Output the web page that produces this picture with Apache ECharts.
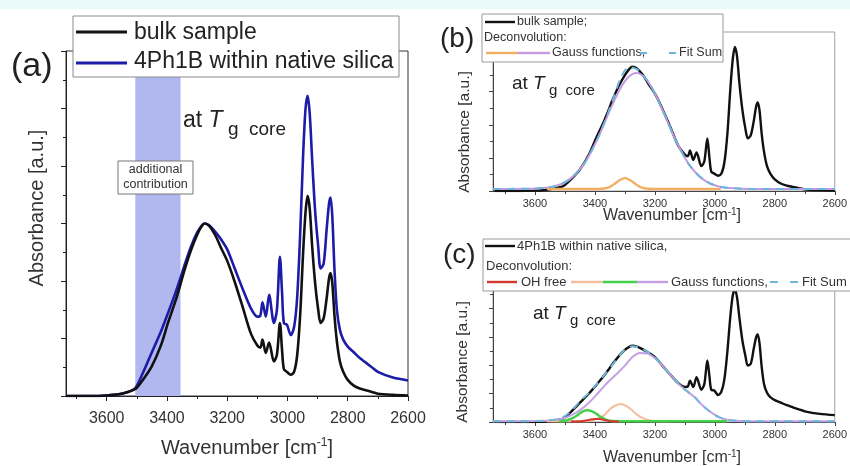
<!DOCTYPE html>
<html>
<head>
<meta charset="utf-8">
<script src="https://cdn.jsdelivr.net/npm/echarts@6/dist/echarts.min.js"></script>
<style>
html,body{margin:0;padding:0;background:#fff;}
#chart{width:850px;height:466px;}
</style>
</head>
<body>
<div id="chart"></div>
<script>
// IR spectra in the O-H / C-H stretching region, wavenumber [cm^-1] vs absorbance [a.u.]
const specWn = [3735,3650,3600,3560,3530,3505,3480,3450,3420,3396,3370,3356,3340,3320,3300,3285,3275,3260,3240,3220,
  3200,3176,3150,3121,3100,3090,3083,3072,3061,3045,3035,3025,3018,3012,3002,2989,2978,2968,2958,2948,
  2940,2933,2926,2918,2908,2898,2890,2880,2870,2862,2857,2851,2844,2836,2826,2815,2800,2780,2760,2740,
  2720,2700,2650,2600];
// bulk sample
const bulkAbs = [0.0,0.0,0.01,0.03,0.07,0.12,0.28,0.52,0.88,1.28,1.68,1.93,2.22,2.54,2.8,2.95,3.0,2.96,2.8,2.57,
  2.35,2.0,1.57,1.08,0.88,0.84,0.98,0.75,0.93,0.6,0.72,1.27,0.8,0.47,0.42,0.37,0.42,0.7,1.4,2.5,
  3.2,3.48,3.25,2.6,1.95,1.5,1.27,1.35,1.7,2.05,2.14,1.95,1.4,0.95,0.6,0.42,0.28,0.18,0.13,0.1,
  0.07,0.04,0.02,0.01];
// 4Ph1B within native silica
const silicaAbs = [0.0,0.0,0.01,0.03,0.07,0.14,0.4,0.76,1.12,1.45,1.82,2.04,2.3,2.6,2.84,2.96,3.0,2.97,2.86,2.72,
  2.55,2.23,1.88,1.52,1.38,1.4,1.63,1.38,1.76,1.27,1.5,2.42,1.8,1.27,1.24,1.06,1.2,1.7,2.8,4.2,
  5.0,5.22,4.9,4.1,3.2,2.6,2.22,2.3,2.9,3.35,3.45,3.1,2.2,1.5,1.15,0.98,0.86,0.76,0.66,0.58,
  0.5,0.42,0.32,0.27];

// deconvolution of the bulk sample
const bGaussWn = [3740,3612,3562,3537,3512,3487,3462,3437,3412,3387,3362,3337,3312,3287,3262,3237,3212,3187,3162,3137,
  3112,3087,3062,3037,3012,2987,2962,2912,2850,2600];
const bGaussAbs = [0.05,0.056,0.08,0.11,0.17,0.27,0.43,0.65,0.96,1.33,1.75,2.16,2.52,2.76,2.85,2.76,2.52,2.16,1.75,1.33,
  0.96,0.65,0.43,0.27,0.17,0.11,0.08,0.056,0.05,0.05];
const bFitAbs = [0.05,0.056,0.08,0.11,0.17,0.27,0.43,0.65,0.96,1.33,1.77,2.27,2.76,2.99,2.95,2.78,2.52,2.16,1.75,1.33,
  0.96,0.65,0.43,0.27,0.17,0.11,0.08,0.056,0.05,0.05];
const bOrangeWn = [3560,3390,3370,3350,3335,3318,3300,3282,3265,3250,3230,3210,2980];
const bOrangeAbs = [0.05,0.05,0.06,0.1,0.17,0.26,0.31,0.26,0.17,0.1,0.06,0.05,0.05];

// deconvolution of 4Ph1B within native silica
const cGaussWn = [3740,3650,3600,3560,3530,3505,3480,3451,3420,3396,3370,3345,3320,3300,3275,3250,3225,3200,3176,3150,
  3121,3100,3068,3045,3022,3000,2985,2960,2930,2880,2600];
const cGaussAbs = [0.03,0.03,0.04,0.05,0.08,0.14,0.26,0.46,0.76,1.06,1.4,1.7,1.98,2.22,2.56,2.72,2.7,2.52,2.23,1.88,
  1.5,1.28,0.98,0.7,0.46,0.28,0.18,0.09,0.05,0.03,0.03];
const cFitAbs = [0.03,0.03,0.04,0.06,0.1,0.2,0.42,0.8,1.15,1.46,1.84,2.2,2.58,2.84,2.98,2.92,2.76,2.54,2.23,1.88,
  1.5,1.28,0.98,0.7,0.46,0.28,0.18,0.09,0.05,0.03,0.03];
const cOrangeWn = [3560,3420,3390,3370,3350,3335,3315,3295,3280,3260,3240,3220,3200,3150];
const cOrangeAbs = [0.03,0.03,0.14,0.26,0.5,0.63,0.71,0.63,0.5,0.29,0.15,0.07,0.04,0.03];
const cGreenWn = [3520,3495,3475,3455,3440,3425,3410,3395,3380,3365,3350,3330,2960];
const cGreenAbs = [0.03,0.06,0.15,0.3,0.42,0.46,0.42,0.32,0.2,0.1,0.05,0.03,0.03];
const cRedWn = [3480,3440,3420,3400,3385,3365,3345,3320];
const cRedAbs = [0.02,0.04,0.08,0.12,0.12,0.07,0.03,0.02];

// shaded band of the additional contribution
const bandWn = [3505, 3355];

// tick positions
const xMajor = [2600,2800,3000,3200,3400,3600];
const xMinor = [2700,2900,3100,3300,3500,3700];
const yMajorA = [0,1,2,3,4,5,6];
const yMinorA = [0.5,1.5,2.5,3.5,4.5,5.5];
const yMajorB = [0,0.8,1.6,2.4,3.2];
const yMinorB = [0.4,1.2,2.0,2.8,3.6];
const yMajorC = [0,1.115,2.23,3.345,4.46,5.575];
const yMinorC = [0.5575,1.6725,2.7875,3.9025,5.0175];

const FONT = "'Liberation Sans', Arial, sans-serif";
const pairs = (xs, ys) => xs.map((x, i) => [x, ys[i]]);

function xMain(gi, max, fs, margin, col, tickLen) {
  return {
    gridIndex: gi, type: 'value', min: 2600, max: max, inverse: true, position: 'bottom',
    axisLine: { show: true, onZero: false, lineStyle: { color: col, width: 1 } },
    axisTick: { show: true, inside: false, length: tickLen, customValues: xMajor, lineStyle: { color: col } },
    axisLabel: { show: true, customValues: xMajor, fontSize: fs, fontFamily: FONT, color: '#333', margin: margin,
      formatter: v => String(Math.round(v)) },
    splitLine: { show: false }
  };
}
function xMinorAxis(gi, max, col) {
  return {
    gridIndex: gi, type: 'value', min: 2600, max: max, inverse: true, position: 'bottom',
    axisLine: { show: false },
    axisTick: { show: true, inside: false, length: 3, customValues: xMinor, lineStyle: { color: col } },
    axisLabel: { show: false }, splitLine: { show: false }
  };
}
function yMain(gi, max, ticks, col, tickLen) {
  return {
    gridIndex: gi, type: 'value', min: 0, max: max, position: 'left',
    axisLine: { show: true, onZero: false, lineStyle: { color: col, width: 1 } },
    axisTick: { show: true, inside: false, length: tickLen, customValues: ticks, lineStyle: { color: col } },
    axisLabel: { show: false }, splitLine: { show: false }
  };
}
function yMinorAxis(gi, max, ticks, col) {
  return {
    gridIndex: gi, type: 'value', min: 0, max: max, position: 'left',
    axisLine: { show: false },
    axisTick: { show: true, inside: false, length: 3, customValues: ticks, lineStyle: { color: col } },
    axisLabel: { show: false }, splitLine: { show: false }
  };
}
function line(name, xi, data, color, width, extra) {
  return Object.assign({
    name: name, type: 'line', xAxisIndex: xi, yAxisIndex: xi, data: data,
    symbol: 'none', smooth: 0.3, silent: true,
    lineStyle: { color: color, width: width }, z: 3
  }, extra || {});
}

const chart = echarts.init(document.getElementById('chart'), null, { renderer: 'canvas' });

const txt = (x, y, text, size, extra) => ({
  type: 'text', x: x, y: y, z: 110,
  style: Object.assign({ text: text, fontSize: size, fontFamily: FONT, fill: '#222',
    align: 'left', verticalAlign: 'middle', textAlign: 'left', textVerticalAlign: 'middle' }, extra || {})
});
const seg = (x1, y1, x2, y2, color, w, dash) => ({
  type: 'line', z: 110, shape: { x1: x1, y1: y1, x2: x2, y2: y2 },
  style: { stroke: color, lineWidth: w, lineDash: dash || null }
});
const box = (x, y, w, h, stroke) => ({
  type: 'rect', z: 105, shape: { x: x, y: y, width: w, height: h },
  style: { fill: '#fff', stroke: stroke, lineWidth: 1 }
});
const tgRich = (base, sub, pad) => ({
  a: { fontSize: base, fontFamily: FONT, fill: '#222', lineHeight: base + 2, verticalAlign: 'top' },
  t: { fontSize: base, fontFamily: FONT, fill: '#222', fontStyle: 'italic', lineHeight: base + 2, verticalAlign: 'top' },
  g: { fontSize: sub, fontFamily: FONT, fill: '#222', lineHeight: sub, padding: [pad, 0, 0, 0], verticalAlign: 'top' }
});
const tgText = (x, y, base, sub, pad) => ({
  type: 'text', x: x, y: y, z: 110,
  style: { text: '{a|at }{t|T}{g| g  core}', rich: tgRich(base, sub, pad),
    align: 'left', verticalAlign: 'top', textAlign: 'left', textVerticalAlign: 'top' }
});
const vName = (x, y, size) => ({
  type: 'text', x: x, y: y, rotation: Math.PI / 2, z: 110,
  style: { text: 'Absorbance [a.u.]', fontSize: size, fontFamily: FONT, fill: '#333',
    align: 'center', verticalAlign: 'middle', textAlign: 'center', textVerticalAlign: 'middle' }
});
const hName = (x, y, size) => ({
  type: 'text', x: x, y: y, z: 110,
  style: { text: 'Wavenumber [cm{s|-1}]', fontSize: size, fontFamily: FONT, fill: '#333',
    align: 'center', verticalAlign: 'middle', textAlign: 'center', textVerticalAlign: 'middle',
    rich: { s: { fontSize: Math.round(size * 0.62), fontFamily: FONT, fill: '#333', verticalAlign: 'top', lineHeight: size + 2 } } }
});

const option = {
  animation: false,
  backgroundColor: '#fff',
  grid: [
    { left: 66, top: 51, width: 342, height: 345, show: true, borderColor: '#333', borderWidth: 1, backgroundColor: 'transparent' },
    { left: 493, top: 32, width: 342, height: 159, show: true, borderColor: '#a0a0a0', borderWidth: 1, backgroundColor: 'transparent' },
    { left: 493, top: 280, width: 342, height: 142, show: true, borderColor: '#a0a0a0', borderWidth: 1, backgroundColor: 'transparent' }
  ],
  xAxis: [
    xMain(0, 3735, 16, 15, '#222', 5), xMinorAxis(0, 3735, '#222'),
    xMain(1, 3740, 11, 7, '#444', 4), xMinorAxis(1, 3740, '#444'),
    xMain(2, 3740, 11, 7, '#444', 4), xMinorAxis(2, 3740, '#444')
  ],
  yAxis: [
    yMain(0, 6, yMajorA, '#222', 5), yMinorAxis(0, 6, yMinorA, '#222'),
    yMain(1, 3.84, yMajorB, '#444', 4), yMinorAxis(1, 3.84, yMinorB, '#444'),
    yMain(2, 5.59, yMajorC, '#444', 4), yMinorAxis(2, 5.59, yMinorC, '#444')
  ],
  series: [
    // (a)
    { type: 'line', xAxisIndex: 0, yAxisIndex: 0, data: [], z: 1, silent: true,
      markArea: { silent: true, itemStyle: { color: '#b0b8ef', opacity: 1 },
        data: [[{ xAxis: bandWn[0] }, { xAxis: bandWn[1] }]] } },
    line('4Ph1B within native silica', 0, pairs(specWn, silicaAbs), '#1c1ca8', 2.6),
    line('bulk sample', 0, pairs(specWn, bulkAbs), '#111', 2.6, { z: 4 }),
    // (b)
    line('bulk sample;', 2, pairs(specWn, bulkAbs), '#111', 2.4),
    line('Gauss functions b', 2, pairs(bGaussWn, bGaussAbs), '#c49be2', 2, { z: 4 }),
    line('Gauss orange b', 2, pairs(bOrangeWn, bOrangeAbs), '#f2ae63', 2.4, { z: 5 }),
    line('Fit Sum b', 2, pairs(bGaussWn, bFitAbs), '#6fb4da', 2, { z: 6, lineStyle: { color: '#6fb4da', width: 2, type: [8, 6] } }),
    // (c)
    line('4Ph1B within native silica,', 4, pairs(specWn, silicaAbs), '#111', 2.4),
    line('Gauss functions c', 4, pairs(cGaussWn, cGaussAbs), '#c6a0e4', 2, { z: 4 }),
    line('Gauss orange c', 4, pairs(cOrangeWn, cOrangeAbs), '#f3bf9c', 2, { z: 5 }),
    line('Gauss green c', 4, pairs(cGreenWn, cGreenAbs), '#45d24a', 2.4, { z: 6 }),
    line('OH free', 4, pairs(cRedWn, cRedAbs), '#d2382b', 2, { z: 7 }),
    line('Fit Sum c', 4, pairs(cGaussWn, cFitAbs), '#72b6d8', 2, { z: 8, lineStyle: { color: '#72b6d8', width: 2, type: [8, 6] } })
  ],
  graphic: [
    { type: 'rect', z: 100, shape: { x: 0, y: 0, width: 850, height: 9 }, style: { fill: '#eaf9fc' } },
    // panel (a)
    txt(11, 67, '(a)', 34),
    box(73, 16, 326, 61, '#8a8a8a'),
    seg(76, 32, 127, 32, '#111', 3),
    txt(134, 33, 'bulk sample', 23),
    seg(76, 63, 127, 63, '#1c1ca8', 3),
    txt(134, 62, '4Ph1B within native silica', 23),
    tgText(183, 109, 23, 19, 11),
    box(118, 161, 75, 33, '#777'),
    txt(155.5, 170, 'additional', 12.5, { align: 'center', textAlign: 'center', fill: '#333' }),
    txt(155.5, 185, 'contribution', 12.5, { align: 'center', textAlign: 'center', fill: '#333' }),
    vName(37, 208, 20),
    hName(247, 448, 20),
    // panel (b)
    txt(440, 39, '(b)', 28),
    box(482, 14, 241, 48, '#9a9a9a'),
    seg(485, 22, 515, 22, '#111', 2.4),
    txt(517, 22, 'bulk sample;', 12.5, { fill: '#333' }),
    txt(484, 38, 'Deconvolution:', 12.5, { fill: '#333' }),
    seg(486, 53, 518, 53, '#f2ae63', 2.4),
    seg(518, 53, 550, 53, '#c49be2', 2.4),
    txt(552, 53, 'Gauss functions,', 12.5, { fill: '#333' }),
    seg(640, 53, 677, 53, '#6fb4da', 2, [7, 22]),
    txt(679, 53, 'Fit Sum', 12.5, { fill: '#333' }),
    tgText(512, 74, 19, 15, 9),
    vName(465, 132, 15.5),
    hName(672, 216, 16),
    // panel (c)
    txt(443, 255, '(c)', 28),
    box(483, 239, 380, 52, '#9a9a9a'),
    seg(485, 246, 515, 246, '#111', 2.4),
    txt(517, 246, '4Ph1B within native silica,', 13, { fill: '#333' }),
    txt(486, 266.5, 'Deconvolution:', 13, { fill: '#333' }),
    seg(487, 282, 517, 282, '#d2382b', 2.4),
    txt(521, 282, 'OH free', 13, { fill: '#333' }),
    seg(571, 282, 603, 282, '#f3bf9c', 2.4),
    seg(603, 282, 637, 282, '#45d24a', 2.4),
    seg(637, 282, 668, 282, '#c6a0e4', 2.4),
    txt(671, 282, 'Gauss functions,', 13, { fill: '#333' }),
    seg(770, 282, 798, 282, '#72b6d8', 2, [8, 12]),
    txt(802, 282, 'Fit Sum', 13, { fill: '#333' }),
    tgText(533, 304, 19, 15, 9),
    vName(463, 362, 15.5),
    hName(672, 458, 16)
  ]
};
chart.setOption(option);
</script>
</body>
</html>
